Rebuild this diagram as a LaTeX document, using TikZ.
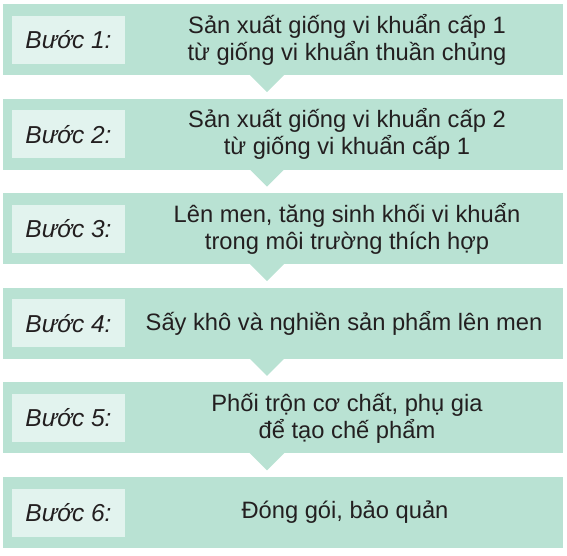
\documentclass[tikz,border=0pt]{standalone}
\usepackage{fontspec}
\setmainfont{Liberation Sans}
\definecolor{bandgreen}{HTML}{B9E2D3}
\definecolor{labelgreen}{HTML}{E2F3EE}
\definecolor{textgray}{HTML}{231F20}
\begin{document}
\begin{tikzpicture}[x=1pt,y=-1pt,
    steptext/.style={text=textgray,font=\fontsize{23.7}{27}\selectfont,align=center},
    steplabel/.style={fill=labelgreen,minimum width=113pt,minimum height=48pt,
      inner sep=0pt,text=textgray,font=\fontsize{24.5}{27}\selectfont\itshape}]
  \useasboundingbox (0,0) rectangle (567,555);
  % bands with pointer below
  \foreach \i in {0,...,5} {
    \fill[bandgreen] (3,4+94.6*\i) rectangle (563,75+94.6*\i);
  }
  \foreach \i in {0,...,4} {
    \fill[bandgreen] (249,74+94.6*\i) -- (267,92+94.6*\i) -- (285,74+94.6*\i) -- cycle;
  }
  \node[steplabel] (s1) at (68.5,39.5) {Bước 1:};
  \node[steplabel] (s2) at (68.5,134.1) {Bước 2:};
  \node[steplabel] (s3) at (68.5,228.7) {Bước 3:};
  \node[steplabel] (s4) at (68.5,323.3) {Bước 4:};
  \node[steplabel] (s5) at (68.5,417.9) {Bước 5:};
  \node[steplabel] (s6) at (68.5,512.5) {Bước 6:};
  \node[steptext] (t1) at (347,39.5) {Sản xuất giống vi khuẩn cấp 1\\từ giống vi khuẩn thuần chủng};
  \node[steptext] (t2) at (347,134.1) {Sản xuất giống vi khuẩn cấp 2\\từ giống vi khuẩn cấp 1};
  \node[steptext] (t3) at (347,228.7) {Lên men, tăng sinh khối vi khuẩn\\trong môi trường thích hợp};
  \node[steptext] (t4) at (344,323.3) {Sấy khô và nghiền sản phẩm lên men};
  \node[steptext] (t5) at (347,417.9) {Phối trộn cơ chất, phụ gia\\để tạo chế phẩm};
  \node[steptext] (t6) at (345,512.5) {Đóng gói, bảo quản};
\end{tikzpicture}
\end{document}
